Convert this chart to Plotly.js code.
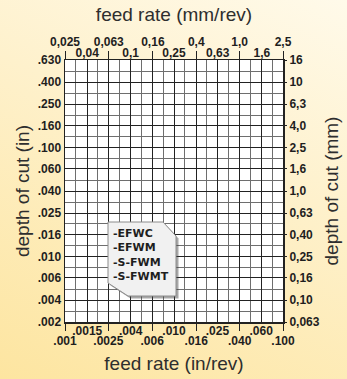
<!DOCTYPE html>
<html><head><meta charset="utf-8">
<script src="https://cdn.plot.ly/plotly-3.0.1.min.js"></script>
<style>
html,body{margin:0;padding:0;}
body{width:347px;height:379px;overflow:hidden;background:linear-gradient(205deg,#fffaea 0%,#fef1cc 40%,#fde5a0 100%);}
#chart{width:347px;height:379px;}
</style></head><body><div id="chart"></div>
<script>
// bottom axis: feed rate (in/rev) — two staggered label rows
const feedInLowerVals = [0.001, 0.0025, 0.0063, 0.016, 0.04, 0.1];
const feedInLowerText = ['.001', '.0025', '.006', '.016', '.040', '.100'];
const feedInUpperVals = [0.0016, 0.004, 0.01, 0.025, 0.063];
const feedInUpperText = ['.0015', '.004', '.010', '.025', '.060'];
// top axis: feed rate (mm/rev) — two staggered label rows
const feedMmUpperVals = [0.025, 0.063, 0.16, 0.4, 1.0, 2.5];
const feedMmUpperText = ['0,025', '0,063', '0,16', '0,4', '1,0', '2,5'];
const feedMmLowerVals = [0.04, 0.1, 0.25, 0.63, 1.6];
const feedMmLowerText = ['0,04', '0,1', '0,25', '0,63', '1,6'];
// depth of cut (positions in mm, labels in mm and in)
const depthMmVals = [0.063, 0.1, 0.16, 0.25, 0.4, 0.63, 1.0, 1.6, 2.5, 4.0, 6.3, 10, 16];
const depthMmText = ['0,063', '0,10', '0,16', '0,25', '0,40', '0,63', '1,0', '1,6', '2,5', '4,0', '6,3', '10', '16'];
const depthInText = ['.002', '.004', '.006', '.010', '.016', '.025', '.040', '.060', '.100', '.160', '.250', '.400', '.630'];
// grades listed in the box
const gradeList = ['-EFWC', '-EFWM', '-S-FWM', '-S-FWMT'];

// half-step grid lines between labelled lines (styling only)
const xRange = [Math.log10(feedInLowerVals[0]), Math.log10(feedInLowerVals[feedInLowerVals.length - 1])];
const yRange = [Math.log10(depthMmVals[0]), Math.log10(depthMmVals[depthMmVals.length - 1])];
const xMinor = [], yMinor = [];
for (let k = 0; k < 10; k++) xMinor.push(Math.pow(10, xRange[0] + 0.1 * (2 * k + 1)));
for (let k = 0; k < 12; k++) yMinor.push(Math.pow(10, yRange[0] + 0.1 * (2 * k + 1)));
const mmRange = [Math.log10(feedMmUpperVals[0]), Math.log10(feedMmUpperVals[feedMmUpperVals.length - 1])];

const narrow = 'Liberation Sans Narrow, Arial Narrow, sans-serif';
const tickFont = {family: narrow, size: 12, color: '#1e1e1e', weight: 'bold'};
const titleFont = {family: narrow, size: 19, color: '#2e2e2e'};
const major = '#222222', minor = '#6e6e6e';

const ghost = {type: 'scatter', mode: 'markers', marker: {opacity: 0}, hoverinfo: 'skip', showlegend: false};
const traces = [
  Object.assign({}, ghost, {x: feedInLowerVals, y: depthMmVals.slice(0, feedInLowerVals.length), xaxis: 'x', yaxis: 'y'}),
  Object.assign({}, ghost, {x: feedMmUpperVals, y: depthMmVals.slice(0, feedMmUpperVals.length), xaxis: 'x2', yaxis: 'y2'}),
  Object.assign({}, ghost, {x: feedInUpperVals, y: depthMmVals.slice(0, feedInUpperVals.length), xaxis: 'x3', yaxis: 'y'}),
  Object.assign({}, ghost, {x: feedMmLowerVals, y: depthMmVals.slice(0, feedMmLowerVals.length), xaxis: 'x4', yaxis: 'y'})
];

// box geometry (paper coords)
const L = 43 / 218, Tx = 98 / 218, R = 111 / 218, Bx = 63 / 218;
const T = 100 / 262, Tc = 86 / 262, B = 26 / 262, Lc = 39 / 262;
function boxPath(dx, dy) {
  return `M${L + dx},${T + dy} L${Tx + dx},${T + dy} L${R + dx},${Tc + dy} L${R + dx},${B + dy} L${Bx + dx},${B + dy} L${L + dx},${Lc + dy} Z`;
}
const shapes = [
  {type: 'path', xref: 'paper', yref: 'paper', path: boxPath(2.5 / 218, -2.5 / 262), fillcolor: 'rgba(60,60,60,0.45)', line: {width: 0}},
  {type: 'path', xref: 'paper', yref: 'paper', path: boxPath(0, 0), fillcolor: '#f1f1f1', line: {color: '#8c8c8c', width: 1}}
];
const annotations = [{
  xref: 'paper', yref: 'paper', x: 46 / 218, y: 67.5 / 262,
  xanchor: 'left', yanchor: 'middle', align: 'left', showarrow: false, text: gradeList.join('<br>'),
  font: {family: 'DejaVu Sans, Liberation Sans, sans-serif', size: 11, color: '#1e1e1e', weight: 'bold'}
}];

const layout = {
  width: 347, height: 379,
  margin: {l: 65, r: 64, t: 60, b: 57},
  paper_bgcolor: 'rgba(0,0,0,0)', plot_bgcolor: '#ffffff',
  showlegend: false, hovermode: false,
  xaxis: {type: 'log', range: xRange, tickvals: feedInLowerVals, ticktext: feedInLowerText,
    ticks: 'outside', ticklen: 7, tickwidth: 1, tickcolor: '#222', tickfont: tickFont,
    showgrid: true, gridcolor: major, gridwidth: 1, zeroline: false,
    showline: true, linecolor: '#222', linewidth: 1.5, mirror: true,
    minor: {tickvals: xMinor, showgrid: true, gridcolor: minor, gridwidth: 1, ticks: ''},
    title: {text: 'feed rate (in/rev)', font: titleFont, standoff: 10}},
  xaxis3: {overlaying: 'x', anchor: 'y', side: 'bottom', type: 'log', range: xRange,
    tickvals: feedInUpperVals, ticktext: feedInUpperText, ticks: '', tickfont: tickFont,
    showgrid: true, gridcolor: major, gridwidth: 1, zeroline: false, showline: false},
  xaxis2: {overlaying: 'x', anchor: 'y', side: 'top', type: 'log', range: mmRange,
    tickvals: feedMmUpperVals, ticktext: feedMmUpperText, ticks: 'outside', ticklen: 8, tickwidth: 1, tickcolor: '#222',
    tickfont: tickFont, showgrid: false, zeroline: false, showline: false,
    title: {text: 'feed rate (mm/rev)', font: titleFont, standoff: 8}},
  xaxis4: {overlaying: 'x', anchor: 'y', side: 'top', type: 'log', range: mmRange,
    tickvals: feedMmLowerVals, ticktext: feedMmLowerText, ticks: '', tickfont: tickFont,
    showgrid: false, zeroline: false, showline: false},
  yaxis: {type: 'log', range: yRange, tickvals: depthMmVals, ticktext: depthInText, ticks: '',
    tickfont: tickFont, showgrid: true, gridcolor: major, gridwidth: 1, zeroline: false,
    showline: true, linecolor: '#222', linewidth: 1.5, mirror: true,
    minor: {tickvals: yMinor, showgrid: true, gridcolor: minor, gridwidth: 1, ticks: ''},
    title: {text: 'depth of cut (in)', font: titleFont, standoff: 3}},
  yaxis2: {overlaying: 'y', anchor: 'x', side: 'right', type: 'log', range: yRange,
    tickvals: depthMmVals, ticktext: depthMmText, ticks: 'outside', ticklen: 3, tickcolor: '#222',
    tickfont: tickFont, showgrid: false, zeroline: false, showline: false,
    title: {text: 'depth of cut (mm)', font: titleFont, standoff: 5}},
  shapes: shapes,
  annotations: annotations
};

Plotly.newPlot('chart', traces, layout, {staticPlot: true, displayModeBar: false});
</script>
</body></html>
